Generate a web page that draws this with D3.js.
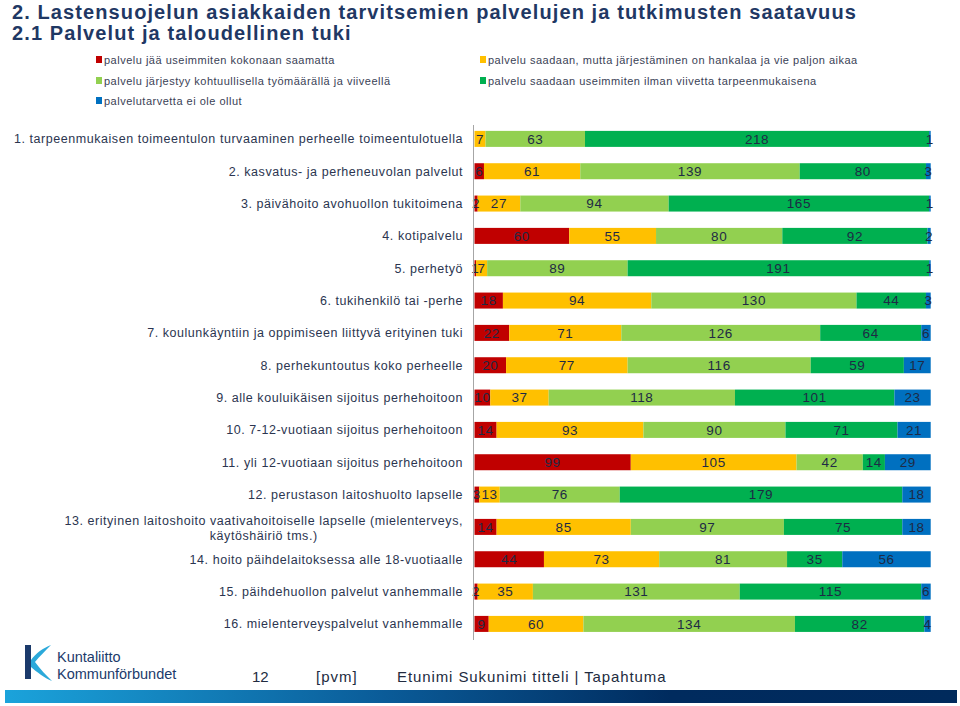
<!DOCTYPE html>
<html>
<head>
<meta charset="utf-8">
<script src="https://cdn.jsdelivr.net/npm/d3@7"></script>
<style>
  body { margin: 0; background: #fff; }
  text { font-family: "Liberation Sans", Arial, sans-serif; }
</style>
</head>
<body>
<div id="chart"></div>
<script>
// data
let categories = [
  "1. tarpeenmukaisen toimeentulon turvaaminen perheelle toimeentulotuella",
  "2. kasvatus- ja perheneuvolan palvelut",
  "3. päivähoito avohuollon tukitoimena",
  "4. kotipalvelu",
  "5. perhetyö",
  "6. tukihenkilö tai -perhe",
  "7. koulunkäyntiin ja oppimiseen liittyvä erityinen tuki",
  "8. perhekuntoutus koko perheelle",
  "9. alle kouluikäisen sijoitus perhehoitoon",
  "10. 7-12-vuotiaan sijoitus perhehoitoon",
  "11. yli 12-vuotiaan sijoitus perhehoitoon",
  "12. perustason laitoshuolto lapselle",
  "13. erityinen laitoshoito vaativahoitoiselle lapselle (mielenterveys,|käytöshäiriö tms.)",
  "14. hoito päihdelaitoksessa alle 18-vuotiaalle",
  "15. päihdehuollon palvelut vanhemmalle",
  "16. mielenterveyspalvelut vanhemmalle"
]

let seriesNames = [
  "palvelu jää useimmiten kokonaan saamatta",
  "palvelu saadaan, mutta järjestäminen on hankalaa ja vie paljon aikaa",
  "palvelu järjestyy kohtuullisella työmäärällä ja viiveellä",
  "palvelu saadaan useimmiten ilman viivetta tarpeenmukaisena",
  "palvelutarvetta ei ole ollut"
]
let seriesColors = ["#C00000", "#FFC000", "#92D050", "#00B050", "#0070C0"]

let saamatta  = [0, 6, 2, 60, 1, 18, 22, 20, 10, 14, 99, 3, 14, 44, 2, 9]
let hankalaa  = [7, 61, 27, 55, 7, 94, 71, 77, 37, 93, 105, 13, 85, 73, 35, 60]
let kohtuull  = [63, 139, 94, 80, 89, 130, 126, 116, 118, 90, 42, 76, 97, 81, 131, 134]
let ilmanViiv = [218, 80, 165, 92, 191, 44, 64, 59, 101, 71, 14, 179, 75, 35, 115, 82]
let eiTarvetta = [1, 3, 1, 2, 1, 3, 6, 17, 23, 21, 29, 18, 18, 56, 6, 4]

let seriesValues = [saamatta, hankalaa, kohtuull, ilmanViiv, eiTarvetta]

let W = 960, H = 706
let navy = "#1F3864"
let textCol = "#2B3550"

let svg = d3.select("#chart").append("svg")
  .attr("width", W).attr("height", H)

// titles
svg.append("text").attr("x", 12).attr("y", 19)
  .attr("font-size", 20).attr("font-weight", "bold").attr("fill", navy)
  .attr("letter-spacing", 1.1)
  .text("2. Lastensuojelun asiakkaiden tarvitsemien palvelujen ja tutkimusten saatavuus")
svg.append("text").attr("x", 12).attr("y", 40)
  .attr("font-size", 20).attr("font-weight", "bold").attr("fill", navy)
  .attr("letter-spacing", 1.1)
  .text("2.1 Palvelut ja taloudellinen tuki")

// legend
let legendPos = [[96, 59.5], [480, 59.5], [96, 80.5], [480, 80.5], [96, 100.5]]
seriesNames.forEach(function(name, i) {
  let g = svg.append("g").attr("transform", "translate(" + legendPos[i][0] + "," + legendPos[i][1] + ")")
  g.append("rect").attr("x", 0).attr("y", -3.5).attr("width", 6).attr("height", 7)
    .attr("fill", seriesColors[i])
  g.append("text").attr("x", 8).attr("y", 4)
    .attr("font-size", 11).attr("fill", "#3A4256").attr("letter-spacing", 0.5)
    .text(name)
})

// stacked bars
let rows = categories.map(function(c, i) {
  let r = { cat: c }
  seriesValues.forEach(function(s, j) { r["s" + j] = s[i] })
  return r
})
let keys = seriesNames.map(function(d, j) { return "s" + j })
let stacked = d3.stack().keys(keys)(rows)

let total = d3.max(rows, function(r) { return d3.sum(keys, function(k) { return r[k] }) })

let x = d3.scaleLinear().domain([0, total]).range([474.5, 930.7])
let y = d3.scaleBand().domain(categories).range([122.8, 640]).paddingInner(0.505).paddingOuter(0.25)

let layer = svg.selectAll("g.layer").data(stacked).enter().append("g")
  .attr("class", "layer")
  .attr("fill", function(d, i) { return seriesColors[i] })

layer.selectAll("rect").data(function(d) { return d }).enter().append("rect")
  .attr("x", function(d) { return x(d[0]) })
  .attr("y", function(d) { return y(d.data.cat) })
  .attr("width", function(d) { return x(d[1]) - x(d[0]) })
  .attr("height", y.bandwidth())

// value labels
stacked.forEach(function(s) {
  svg.append("g").selectAll("text").data(s.filter(function(d) { return d[1] - d[0] > 0 }))
    .enter().append("text")
    .attr("x", function(d) { return (x(d[0]) + x(d[1])) / 2 })
    .attr("y", function(d) { return y(d.data.cat) + y.bandwidth() / 2 + 4.8 })
    .attr("text-anchor", "middle")
    .attr("font-size", 13.5).attr("letter-spacing", 0.6)
    .attr("fill", "#1E2A45")
    .text(function(d) { return d[1] - d[0] })
})

// vertical axis line
svg.append("line").attr("x1", 473.5).attr("x2", 473.5).attr("y1", 125).attr("y2", 640)
  .attr("stroke", "#A6A6A6").attr("stroke-width", 1)

// category labels
categories.forEach(function(c) {
  let parts = c.split("|")
  let cy = y(c) + y.bandwidth() / 2
  if (parts.length === 1) {
    svg.append("text").attr("x", 463).attr("y", cy + 4.5)
      .attr("text-anchor", "end").attr("font-size", 12.5).attr("letter-spacing", 0.55)
      .attr("fill", textCol).text(c)
  } else {
    let t1 = svg.append("text").attr("x", 463).attr("y", cy - 2)
      .attr("text-anchor", "end").attr("font-size", 12.5).attr("letter-spacing", 0.55)
      .attr("fill", textCol).text(parts[0])
    let w = t1.node().getComputedTextLength()
    svg.append("text").attr("x", 463 - w / 2).attr("y", cy + 13)
      .attr("text-anchor", "middle").attr("font-size", 12.5).attr("letter-spacing", 0.55)
      .attr("fill", textCol).text(parts[1])
  }
})

// footer
let grad = svg.append("defs").append("linearGradient").attr("id", "foot")
grad.append("stop").attr("offset", "0%").attr("stop-color", "#1BA3DB")
grad.append("stop").attr("offset", "40%").attr("stop-color", "#0A5B98")
grad.append("stop").attr("offset", "70%").attr("stop-color", "#002B5E")
grad.append("stop").attr("offset", "100%").attr("stop-color", "#002A5C")
svg.append("rect").attr("x", 5).attr("y", 690).attr("width", 952).attr("height", 13)
  .attr("fill", "url(#foot)")

// logo
svg.append("path")
  .attr("d", "M31,660 C36,653 43,648 51,645 C45,651 39,657 35,662 C40,669 46,675 52,681 C44,678 37,672 31,667 Z")
  .attr("fill", "#2BA9DA")
svg.append("rect").attr("x", 25).attr("y", 645).attr("width", 6).attr("height", 34).attr("fill", "#1B3A6B")
svg.append("text").attr("x", 57).attr("y", 661.5).attr("font-size", 14.5)
  .attr("font-family", "Open Sans, sans-serif").attr("fill", "#1B3A6B").text("Kuntaliitto")
svg.append("text").attr("x", 57).attr("y", 678.5).attr("font-size", 14.5)
  .attr("font-family", "Open Sans, sans-serif").attr("fill", "#1B3A6B").text("Kommunförbundet")

svg.append("text").attr("x", 252).attr("y", 682).attr("font-size", 15).attr("fill", "#222B40").text("12")
svg.append("text").attr("x", 316).attr("y", 682).attr("font-size", 15).attr("letter-spacing", 1).attr("fill", "#222B40").text("[pvm]")
svg.append("text").attr("x", 397).attr("y", 682).attr("font-size", 15).attr("letter-spacing", 0.9).attr("fill", "#222B40")
  .text("Etunimi Sukunimi titteli | Tapahtuma")
</script>
</body>
</html>
